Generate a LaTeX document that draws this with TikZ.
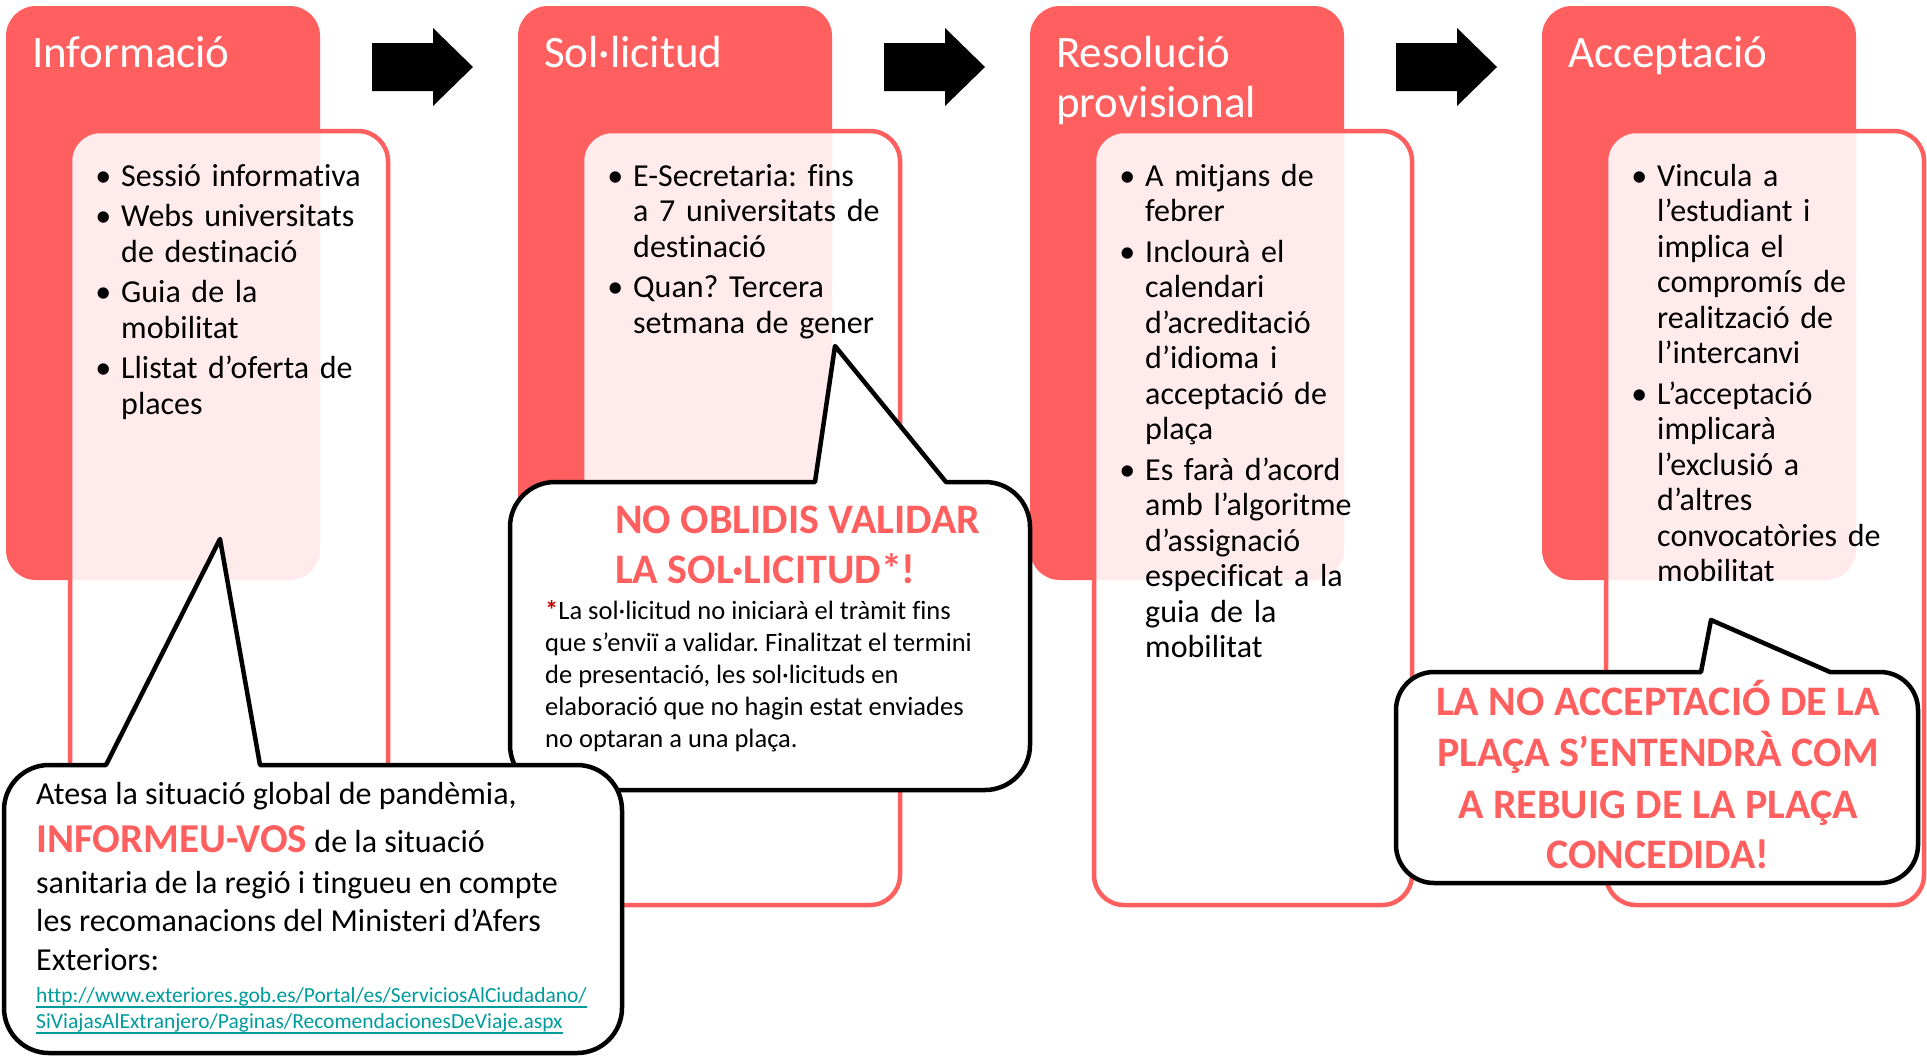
\documentclass[tikz,border=0pt]{standalone}
\usepackage{fontspec}
\setmainfont{Carlito}[Ligatures={NoCommon}]
\frenchspacing
\definecolor{myred}{HTML}{FF5F5F}
\definecolor{stardark}{HTML}{C00000}
\definecolor{linkteal}{HTML}{009C9C}
\newcommand{\bul}{\leavevmode\llap{\textbullet\hspace{10pt}}}
\begin{document}
\begin{tikzpicture}[x=1pt,y=1pt,
  redbox/.style={fill=myred, rounded corners=30pt},
  whitebox/.style={fill=white, fill opacity=0.88, draw=myred, line width=4.5pt, rounded corners=30pt},
  titletxt/.style={anchor=base west, inner sep=0pt, text=white, font=\fontsize{45}{50}\selectfont},
  bodytxt/.style={anchor=base west, inner sep=0pt, text width=330pt, align=left, font=\fontsize{32}{35.5}\selectfont},
  blockarrow/.style={fill=black},
  callout/.style={fill=white, draw=black, line width=4.5pt, line join=round},
  ctxt/.style={anchor=base west, inner sep=0pt, font=\fontsize{32}{38}\selectfont},
  bigred/.style={inner sep=0pt, text=myred, font=\fontsize{42}{50}\selectfont\bfseries},
  smalltxt/.style={anchor=base west, inner sep=0pt, font=\fontsize{26.5}{32}\selectfont},
  linktxt/.style={anchor=base west, inner sep=0pt, text=linkteal, font=\fontsize{21.5}{27}\selectfont},
  linkline/.style={draw=linkteal, line width=1.5pt}
]
\path[use as bounding box] (0,0) rectangle (1927,-1058);

% panels
\foreach \i in {0,1,2,3}{
  \fill[redbox] (6+512*\i,-6) rectangle (320+512*\i,-580);
  \draw[whitebox] (70+512*\i,-131) rectangle (388+512*\i,-905);
}

% titles
\node[titletxt] (t1) at (32,-67) {Informació};
\node[titletxt] (t2) at (544,-67) {Sol·licitud};
\node[titletxt] (t3a) at (1056,-67) {Resolució};
\node[titletxt] (t3b) at (1056,-117) {provisional};
\node[titletxt] (t4) at (1568,-67) {Acceptació};

% bodies
\node[bodytxt] (b1) at (121,-186) {\bul Sessió informativa\\[5pt]
\bul Webs universitats\\ de destinació\\[5pt]
\bul Guia de la\\ mobilitat\\[5pt]
\bul Llistat d’oferta de\\ places};
\node[bodytxt] (b2) at (633,-186) {\bul E-Secretaria: fins\\ a 7 universitats de\\ destinació\\[5pt]
\bul Quan? Tercera\\ setmana de gener};
\node[bodytxt] (b3) at (1145,-186) {\bul A mitjans de\\ febrer\\[5pt]
\bul Inclourà el\\ calendari\\ d’acreditació\\ d’idioma i\\ acceptació de\\ plaça\\[5pt]
\bul Es farà d’acord\\ amb l’algoritme\\ d’assignació\\ especificat a la\\ guia de la\\ mobilitat};
\node[bodytxt] (b4) at (1657,-186) {\bul Vincula a\\ l’estudiant i\\ implica el\\ compromís de\\ realització de\\ l’intercanvi\\[5pt]
\bul L’acceptació\\ implicarà\\ l’exclusió a\\ d’altres\\ convocatòries de\\ mobilitat};

% block arrows
\foreach \i in {0,1,2}{
  \fill[blockarrow] (372+512*\i,-43) -- (433+512*\i,-43) -- (433+512*\i,-28) -- (473+512*\i,-67)
    -- (433+512*\i,-106) -- (433+512*\i,-91) -- (372+512*\i,-91) -- cycle;
}

% callout 2 (Sol·licitud)
\filldraw[callout] (815,-482) -- (835,-346) -- (946,-482) -- (985,-482)
  arc[start angle=90,end angle=0,radius=45] -- (1030,-745)
  arc[start angle=0,end angle=-90,radius=45] -- (555,-790)
  arc[start angle=270,end angle=180,radius=45] -- (510,-527)
  arc[start angle=180,end angle=90,radius=45] -- cycle;
\node[bigred, anchor=base west] (c2a) at (615,-533) {NO OBLIDIS VALIDAR};
\node[bigred, anchor=base west] (c2b) at (615,-583) {LA SOL·LICITUD*!};
\node[smalltxt] (c2c) at (545,-619) {{\color{stardark}\bfseries *}La sol·licitud no iniciarà el tràmit fins};
\node[smalltxt] (c2d) at (545,-651) {que s’enviï a validar. Finalitzat el termini};
\node[smalltxt] (c2e) at (545,-683) {de presentació, les sol·licituds en};
\node[smalltxt] (c2f) at (545,-715) {elaboració que no hagin estat enviades};
\node[smalltxt] (c2g) at (545,-747) {no optaran a una plaça.};

% callout 3 (Acceptació)
\filldraw[callout] (1701,-672) -- (1711,-620) -- (1830,-672) -- (1880,-672)
  arc[start angle=90,end angle=0,radius=38] -- (1918,-845)
  arc[start angle=0,end angle=-90,radius=38] -- (1434,-883)
  arc[start angle=270,end angle=180,radius=38] -- (1396,-710)
  arc[start angle=180,end angle=90,radius=38] -- cycle;
\node[bigred, anchor=base] (c3a) at (1658,-715) {LA NO ACCEPTACIÓ DE LA};
\node[bigred, anchor=base] (c3b) at (1658,-766) {PLAÇA S’ENTENDRÀ COM};
\node[bigred, anchor=base] (c3c) at (1658,-818) {A REBUIG DE LA PLAÇA};
\node[bigred, anchor=base] (c3d) at (1658,-868) {CONCEDIDA!};

% callout 1 (Informació)
\filldraw[callout] (106,-765) -- (220,-539) -- (260,-765) -- (577,-765)
  arc[start angle=90,end angle=0,radius=45] -- (622,-1008)
  arc[start angle=0,end angle=-90,radius=45] -- (49,-1053)
  arc[start angle=270,end angle=180,radius=45] -- (4,-810)
  arc[start angle=180,end angle=90,radius=45] -- cycle;
\node[ctxt] (c1a) at (36,-804) {Atesa la situació global de pandèmia,};
\node[ctxt] (c1b) at (36,-852) {{\color{myred}\bfseries\fontsize{41}{41}\selectfont INFORMEU-VOS} de la situació};
\node[ctxt] (c1c) at (36,-893) {sanitaria de la regió i tingueu en compte};
\node[ctxt] (c1d) at (36,-931) {les recomanacions del Ministeri d’Afers};
\node[ctxt] (c1e) at (36,-970) {Exteriors:};
\node[linktxt] (c1f) at (36,-1002) {http://www.exteriores.gob.es/Portal/es/ServiciosAlCiudadano/};
\node[linktxt] (c1g) at (36,-1028) {SiViajasAlExtranjero/Paginas/RecomendacionesDeViaje.aspx};
\draw[linkline] ([yshift=-5pt]c1f.base west) -- ([yshift=-5pt]c1f.base east);
\draw[linkline] ([yshift=-5pt]c1g.base west) -- ([yshift=-5pt]c1g.base east);
\end{tikzpicture}
\end{document}
